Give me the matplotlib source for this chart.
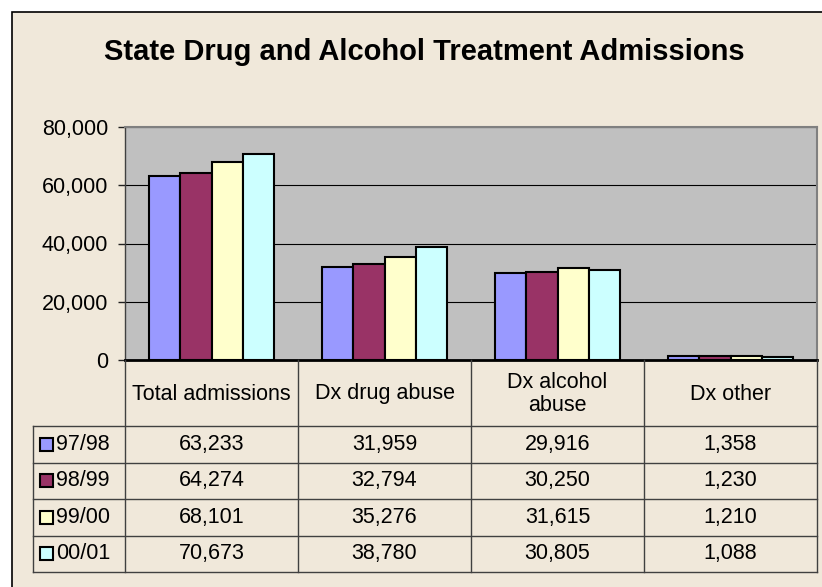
import numpy as np
import matplotlib.pyplot as plt
from matplotlib.patches import Rectangle
from matplotlib.transforms import Affine2D
from matplotlib.ticker import FuncFormatter

plt.rcParams['font.family'] = ['Liberation Sans', 'DejaVu Sans']

categories = ["Total admissions", "Dx drug abuse", "Dx alcohol\nabuse", "Dx other"]
years = ["97/98", "98/99", "99/00", "00/01"]
v9798 = [63233, 31959, 29916, 1358]
v9899 = [64274, 32794, 30250, 1230]
v9900 = [68101, 35276, 31615, 1210]
v0001 = [70673, 38780, 30805, 1088]
colors = ["#9999FF", "#993366", "#FFFFCC", "#CCFFFF"]
series = [v9798, v9899, v9900, v0001]

W, H = 822, 587
fig = plt.figure(figsize=(W / 100, H / 100), dpi=100)
fig.patch.set_facecolor("white")

# pixel coords (from top-left) -> display
pxt = Affine2D().scale(1 / W, -1 / H).translate(0, 1) + fig.transFigure

# chart area background
fig.patches.append(Rectangle((12, 12), 900, 700, transform=pxt, zorder=-5,
                             facecolor="#F0E8DA", edgecolor="black", lw=1.2))

fig.text(424, 52, "State Drug and Alcohol Treatment Admissions", transform=pxt,
         ha="center", va="center", fontsize=21, fontweight="bold")

# plot area
left, right, top, base = 125, 817, 127, 360
ax = fig.add_axes([left / W, (H - base) / H, (right - left) / W, (base - top) / H])
ax.set_facecolor("#C0C0C0")

bw = 1 / 5.5
x = np.arange(len(categories))
for j, vals in enumerate(series):
    ax.bar(x + (j - 1.5) * bw, vals, bw, color=colors[j], edgecolor="black",
           lw=1.5, zorder=3)

ax.set_xlim(-0.5, len(categories) - 0.5)
ax.set_ylim(0, 80000)
ax.set_yticks(np.arange(0, 80001, 20000))
ax.yaxis.set_major_formatter(FuncFormatter(lambda v, p: f"{int(v):,}"))
ax.set_xticks([])
ax.tick_params(axis="y", labelsize=15.5, length=5, width=1, color="#202020", pad=7)
ax.yaxis.grid(True, color="black", lw=0.8, zorder=1)
ax.set_axisbelow(True)
for s in ["top", "right"]:
    ax.spines[s].set_color("#808080")
    ax.spines[s].set_linewidth(1.5)
ax.spines["left"].set_color("#404040")
ax.spines["left"].set_linewidth(1)
ax.spines["bottom"].set_color("black")
ax.spines["bottom"].set_linewidth(2)
ax.spines["bottom"].set_zorder(4)

# data table
colw = (right - left) / len(categories)
leg_left = 33
hdr_bot = 426
row_h = 36.5
row_edges = [hdr_bot + i * row_h for i in range(len(years) + 1)]
line_kw = dict(transform=pxt, color="#404040", lw=1)

for i in range(len(categories) + 1):
    xx = left + i * colw
    fig.add_artist(plt.Line2D([xx, xx], [base, row_edges[-1]], **line_kw))
fig.add_artist(plt.Line2D([leg_left, leg_left], [hdr_bot, row_edges[-1]], **line_kw))
for yy in row_edges:
    fig.add_artist(plt.Line2D([leg_left, right], [yy, yy], **line_kw))

for i, cat in enumerate(categories):
    fig.text(left + (i + 0.5) * colw, (base + hdr_bot) / 2 + 1, cat, transform=pxt,
             ha="center", va="center", fontsize=15.5, linespacing=1.1)

for j, (yr, vals) in enumerate(zip(years, series)):
    yc = (row_edges[j] + row_edges[j + 1]) / 2
    fig.patches.append(Rectangle((39.5, yc - 6.5), 13, 13, transform=pxt,
                                 facecolor=colors[j], edgecolor="black", lw=1.5))
    fig.text(56, yc, yr, transform=pxt, ha="left", va="center", fontsize=15.5)
    for i, v in enumerate(vals):
        fig.text(left + (i + 0.5) * colw, yc, f"{v:,}", transform=pxt,
                 ha="center", va="center", fontsize=15.5)

fig.savefig("out.png", dpi=100)
